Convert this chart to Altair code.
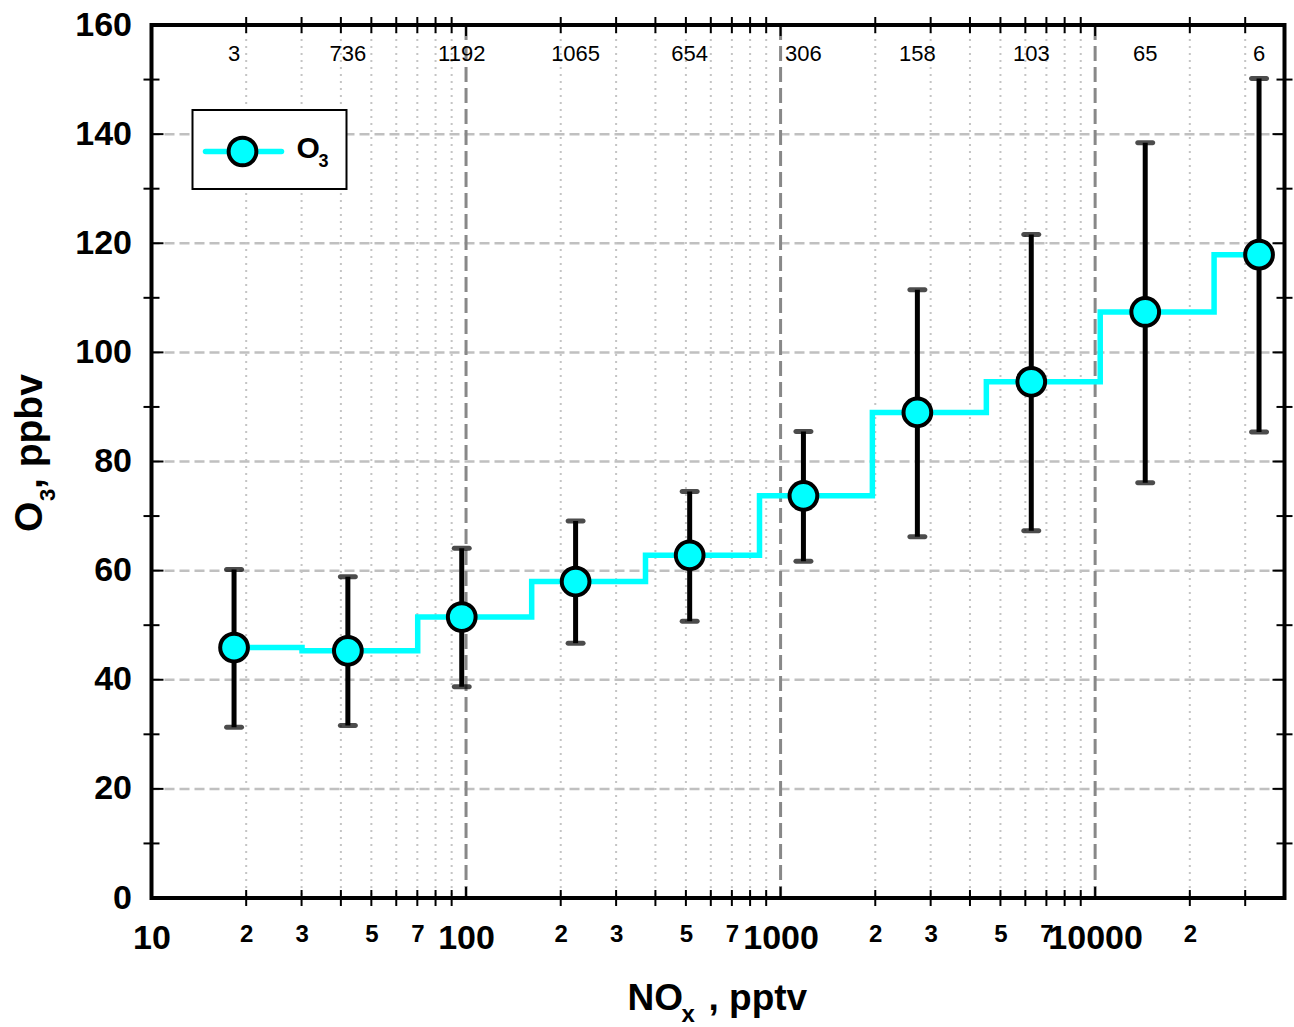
import altair as alt
import pandas as pd

# ---------------- data ----------------
nox_bin_center = [18.3, 42.1, 96.9, 223.0, 514.0, 1182.0, 2722.0, 6266.0, 14430.0, 33200.0]
o3_mean = [45.9, 45.3, 51.5, 58.0, 62.8, 73.7, 89.0, 94.6, 107.4, 117.9]
o3_low = [31.3, 31.6, 38.7, 46.7, 50.7, 61.7, 66.2, 67.3, 76.1, 85.4]
o3_high = [60.2, 58.9, 64.1, 69.1, 74.5, 85.5, 111.5, 121.6, 138.4, 150.2]
counts = [3, 736, 1192, 1065, 654, 306, 158, 103, 65, 6]
nox_bin_edges = [30.1, 70.2, 161.7, 372.0, 857.0, 1958.0, 4510.0, 10380.0, 23890.0]

x_major = [100, 1000, 10000]
x_minor = [20, 30, 40, 50, 60, 70, 80, 90,
           200, 300, 400, 500, 600, 700, 800, 900,
           2000, 3000, 4000, 5000, 6000, 7000, 8000, 9000,
           20000, 30000]
x_label_values = [10, 20, 30, 50, 70, 100, 200, 300, 500, 700, 1000,
                  2000, 3000, 5000, 7000, 10000, 20000]
y_major = [20, 40, 60, 80, 100, 120, 140]
y_minor = [10, 30, 50, 70, 90, 110, 130, 150]
y_label_values = [0, 20, 40, 60, 80, 100, 120, 140, 160]

W, H = 1133, 873
FONT = "Liberation Sans"
CYAN = "#00FFFF"

df = pd.DataFrame({"nox": nox_bin_center, "o3": o3_mean, "lo": o3_low,
                   "hi": o3_high, "n": counts})
step_df = pd.DataFrame({
    "nox": [nox_bin_center[0]] + nox_bin_edges + [nox_bin_center[-1]],
    "o3": o3_mean + [o3_mean[-1]],
})
one = pd.DataFrame({"k": [0]})

major_test = "indexof([10,100,1000,10000], datum.value) >= 0"
xscale = alt.Scale(type="log", domain=[10, 40000], nice=False)
yscale = alt.Scale(domain=[0, 160], nice=False, zero=False)
xaxis = alt.Axis(
    values=x_label_values, title=None, ticks=False, tickSize=0, domain=False, grid=False,
    labelExpr=major_test + " ? toString(datum.value) : slice(toString(datum.value), 0, 1)",
    labelFontSize={"condition": {"test": major_test, "value": 34}, "value": 24},
    labelPadding={"condition": {"test": major_test, "value": 50}, "value": 43},
    labelBaseline="alphabetic", labelFont=FONT, labelFontWeight="bold", labelColor="black",
    labelOverlap=False, labelFlush=False, labelBound=False, labelAlign="center",
)
yaxis = alt.Axis(
    values=y_label_values, title=None, ticks=False, tickSize=0, domain=False, grid=False,
    labelFontSize=34, labelPadding=20, labelFont=FONT, labelFontWeight="bold",
    labelColor="black", labelBaseline="middle", labelOverlap=False, labelFlush=False,
)


def X(field):
    return alt.X(field, type="quantitative", scale=xscale, axis=xaxis)


def Y(field):
    return alt.Y(field, type="quantitative", scale=yscale, axis=yaxis)


# ---------------- grid ----------------
hgrid = alt.Chart(pd.DataFrame({"v": y_major})).mark_rule(
    color="#c0c0c0", strokeWidth=2.5, strokeDash=[10, 5]).encode(y=Y("v"))
vminor = alt.Chart(pd.DataFrame({"v": x_minor})).mark_rule(
    color="#c4c4c4", strokeWidth=2, strokeDash=[2, 5]).encode(x=X("v"))
vmajor = alt.Chart(pd.DataFrame({"v": x_major})).mark_rule(
    color="#888888", strokeWidth=3, strokeDash=[15, 6]).encode(x=X("v"))

# ---------------- data marks ----------------
step = alt.Chart(step_df).mark_line(
    color=CYAN, strokeWidth=5.5, interpolate="step-after").encode(x=X("nox"), y=Y("o3"))
ebar = alt.Chart(df).mark_rule(color="black", strokeWidth=5).encode(
    x=X("nox"), y=Y("lo"), y2="hi")
cap_hi = alt.Chart(df).mark_tick(color="black", orient="horizontal", size=20,
                                 thickness=5, cornerRadius=2.5).encode(x=X("nox"), y=Y("hi"))
cap_lo = alt.Chart(df).mark_tick(color="black", orient="horizontal", size=20,
                                 thickness=5, cornerRadius=2.5).encode(x=X("nox"), y=Y("lo"))
pts = alt.Chart(df).mark_point(shape="circle", filled=True, fill=CYAN, stroke="black",
                               strokeWidth=4, size=770, opacity=1).encode(x=X("nox"), y=Y("o3"))
cnt = alt.Chart(df).mark_text(font=FONT, fontSize=22, baseline="alphabetic", align="center",
                              color="black").encode(
    x=X("nox"), y=alt.value(36), text=alt.Text("n:Q", format="d"))

# ---------------- ticks ----------------
tk = dict(color="black", strokeWidth=2)
xmin_df = pd.DataFrame({"v": x_minor})
xmaj_df = pd.DataFrame({"v": x_major})
ymin_df = pd.DataFrame({"v": y_minor})
ymaj_df = pd.DataFrame({"v": y_major})
ticks = [
    alt.Chart(xmin_df).mark_rule(**tk).encode(x=X("v"), y=alt.value(H - 8), y2=alt.value(H + 8)),
    alt.Chart(xmin_df).mark_rule(**tk).encode(x=X("v"), y=alt.value(-8), y2=alt.value(8)),
    alt.Chart(xmaj_df).mark_rule(**tk).encode(x=X("v"), y=alt.value(H - 11), y2=alt.value(H)),
    alt.Chart(xmaj_df).mark_rule(**tk).encode(x=X("v"), y=alt.value(0), y2=alt.value(11)),
    alt.Chart(ymin_df).mark_rule(**tk).encode(y=Y("v"), x=alt.value(-8), x2=alt.value(8)),
    alt.Chart(ymin_df).mark_rule(**tk).encode(y=Y("v"), x=alt.value(W - 8), x2=alt.value(W + 8)),
    alt.Chart(ymaj_df).mark_rule(**tk).encode(y=Y("v"), x=alt.value(0), x2=alt.value(12)),
    alt.Chart(ymaj_df).mark_rule(**tk).encode(y=Y("v"), x=alt.value(W - 12), x2=alt.value(W)),
]

frame = alt.Chart(one).mark_rect(filled=False, stroke="black", strokeWidth=4).encode(
    x=alt.value(0), x2=alt.value(W), y=alt.value(0), y2=alt.value(H))

# ---------------- legend ----------------
leg_box = alt.Chart(one).mark_rect(fill="white", stroke="black", strokeWidth=2).encode(
    x=alt.value(41), x2=alt.value(195), y=alt.value(85), y2=alt.value(164))
leg_line = alt.Chart(one).mark_rule(color=CYAN, strokeWidth=5.5, strokeCap="round").encode(
    x=alt.value(54), x2=alt.value(130), y=alt.value(126.5))
leg_pt = alt.Chart(one).mark_point(shape="circle", filled=True, fill=CYAN, stroke="black",
                                   strokeWidth=4, size=770, opacity=1).encode(
    x=alt.value(91), y=alt.value(126.5))
leg_o = alt.Chart(one).mark_text(text="O", font=FONT, fontSize=30, fontWeight="bold",
                                 align="left", baseline="alphabetic").encode(
    x=alt.value(145), y=alt.value(133))
leg_3 = alt.Chart(one).mark_text(text="3", font=FONT, fontSize=18, fontWeight="bold",
                                 align="left", baseline="alphabetic").encode(
    x=alt.value(167), y=alt.value(142))

# ---------------- axis titles ----------------
tx = dict(font=FONT, fontWeight="bold", align="left", baseline="alphabetic", color="black")
xt1 = alt.Chart(one).mark_text(text="NO", fontSize=37, **tx).encode(
    x=alt.value(476), y=alt.value(985))
xt2 = alt.Chart(one).mark_text(text="x", fontSize=24, **tx).encode(
    x=alt.value(530), y=alt.value(997))
xt3 = alt.Chart(one).mark_text(text=", pptv", fontSize=37, **tx).encode(
    x=alt.value(557), y=alt.value(985))
yt1 = alt.Chart(one).mark_text(text="O", fontSize=39, angle=270, **tx).encode(
    x=alt.value(-109.5), y=alt.value(507))
yt2 = alt.Chart(one).mark_text(text="3", fontSize=22, angle=270, **tx).encode(
    x=alt.value(-96.5), y=alt.value(476))
yt3 = alt.Chart(one).mark_text(text=", ppbv", fontSize=39, angle=270, **tx).encode(
    x=alt.value(-109.5), y=alt.value(464))

chart = alt.layer(
    hgrid, vminor, vmajor, step, ebar, cap_hi, cap_lo, pts, cnt, *ticks, frame,
    leg_box, leg_line, leg_pt, leg_o, leg_3, xt1, xt2, xt3, yt1, yt2, yt3,
).properties(
    width=W, height=H,
    autosize=alt.AutoSizeParams(type="none"),
    padding={"left": 151.5, "top": 25, "right": 9.5, "bottom": 129},
    background="white",
).configure_view(stroke=None)

chart.save("out.html", embed_options={"renderer": "svg", "actions": False})
